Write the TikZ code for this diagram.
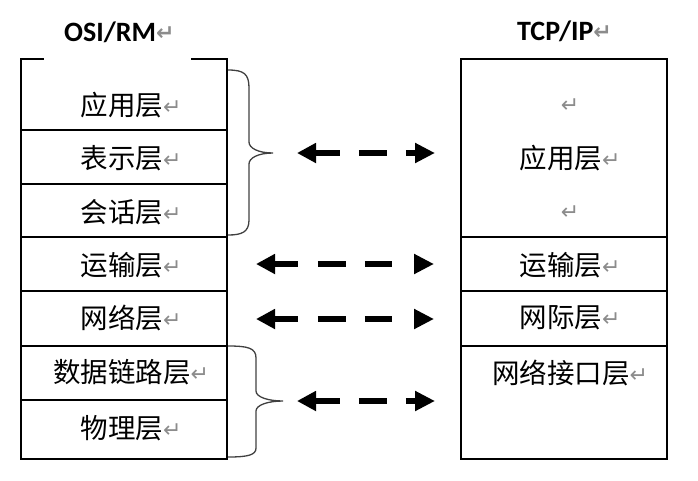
\documentclass[tikz,border=0pt]{standalone}
\usepackage{fontspec}
\setmainfont{Carlito}
\newfontfamily\cjkf{Noto Sans CJK SC}
\newfontfamily\symf{DejaVu Sans}
\usetikzlibrary{arrows.meta}
\newcommand\retmark{{\symf\fontsize{22}{22}\selectfont\color{gray!90}\raisebox{1pt}{↵}}}
\begin{document}
\begin{tikzpicture}[x=1pt,y=-1pt,
  boxline/.style={line width=1.7pt, line cap=rect},
  lay/.style={font=\cjkf\fontsize{27.5}{29}\selectfont, inner sep=0pt, anchor=center},
  headt/.style={font=\bfseries\fontsize{28}{30}\selectfont, inner sep=0pt, anchor=west},
  bracel/.style={line width=1.3pt, black!75},
  biarrow/.style={line width=6pt, {Triangle[length=19pt,width=19pt]}-{Triangle[length=20pt,width=19pt]}},
  shortdash/.style={dash pattern=on 25pt off 19pt on 28pt off 19pt on 12pt},
  longdash/.style={dash pattern=on 24pt off 20pt on 28pt off 19pt on 27pt off 22pt}
]
\useasboundingbox (0,0) rectangle (698,480);

% headings
\node[headt] (osi) at (64,32) {OSI/RM\retmark};
\node[headt] (tcp) at (517,31) {TCP/IP\retmark};

% left box
\draw[boxline] (43,59) -- (21,59) -- (21,459) -- (227,459) -- (227,59) -- (192,59);
\foreach \yy in {130,184,237,291,346,400}
  \draw[boxline] (21,\yy) -- (227,\yy);

% right box
\draw[boxline] (461,59) rectangle (667,459);
\foreach \yy in {237,291,346}
  \draw[boxline] (461,\yy) -- (667,\yy);

% left labels
\node[lay] (l1) at (131,105) {应用层\retmark};
\node[lay] (l2) at (131,158) {表示层\retmark};
\node[lay] (l3) at (131,212) {会话层\retmark};
\node[lay] (l4) at (131,265) {运输层\retmark};
\node[lay] (l5) at (131,318) {网络层\retmark};
\node[lay] (l6) at (131,372) {数据链路层\retmark};
\node[lay] (l7) at (131,428) {物理层\retmark};

% right labels
\node[lay] (r0) at (570,106) {\retmark};
\node[lay] (r1) at (570,158) {应用层\retmark};
\node[lay] (r2) at (570,213) {\retmark};
\node[lay] (r3) at (570,265) {运输层\retmark};
\node[lay] (r4) at (570,318) {网际层\retmark};
\node[lay] (r5) at (570,373) {网络接口层\retmark};

% braces
\draw[bracel] (228,70) .. controls (244,70) and (249,74) .. (249,88)
  -- (249,142) .. controls (249,148) and (258,153) .. (273,153)
  .. controls (258,153) and (249,158) .. (249,164)
  -- (249,220) .. controls (249,232) and (242,235) .. (228,235);
\draw[bracel] (228,346) .. controls (248,346) and (256,348) .. (256,358)
  -- (256,391) .. controls (256,397) and (268,401) .. (283,401)
  .. controls (268,401) and (256,405) .. (256,411)
  -- (256,448) .. controls (256,455) and (248,457) .. (228,457);

% arrows
\coordinate (a1l) at (297,153); \coordinate (a1r) at (435,153);
\coordinate (a2l) at (256,264); \coordinate (a2r) at (434,264);
\coordinate (a3l) at (256,319); \coordinate (a3r) at (434,319);
\coordinate (a4l) at (297,401); \coordinate (a4r) at (435,401);
\draw[biarrow, shortdash] (a1l) -- (a1r);
\draw[biarrow, longdash] (a2l) -- (a2r);
\draw[biarrow, longdash] (a3l) -- (a3r);
\draw[biarrow, shortdash] (a4l) -- (a4r);
\end{tikzpicture}
\end{document}
